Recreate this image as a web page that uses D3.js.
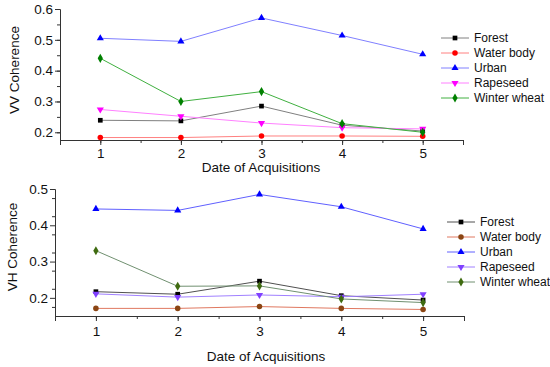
<!DOCTYPE html>
<html>
<head>
<meta charset="utf-8">
<script src="https://cdn.jsdelivr.net/npm/d3@7"></script>
<style>
    body { margin: 0; background: #fff; }
    svg { font-family: Arial, "Liberation Sans", sans-serif; }
</style>
</head>
<body>
<svg id="chart" width="550" height="367"></svg>
<script>
// data
var dates = [1, 2, 3, 4, 5];
var classes = ["Forest", "Water body", "Urban", "Rapeseed", "Winter wheat"];

var vvForest = [0.239, 0.237, 0.285, 0.223, 0.204];
var vvWater = [0.183, 0.183, 0.188, 0.188, 0.187];
var vvUrban = [0.505, 0.495, 0.571, 0.514, 0.453];
var vvRape = [0.274, 0.252, 0.230, 0.215, 0.211];
var vvWheat = [0.440, 0.300, 0.332, 0.228, 0.200];

var vhForest = [0.217, 0.210, 0.246, 0.206, 0.194];
var vhWater = [0.171, 0.171, 0.176, 0.171, 0.168];
var vhUrban = [0.445, 0.441, 0.485, 0.451, 0.390];
var vhRape = [0.211, 0.202, 0.208, 0.203, 0.210];
var vhWheat = [0.330, 0.232, 0.233, 0.197, 0.187];

var vvTicks = [0.2, 0.3, 0.4, 0.5, 0.6];
var vhTicks = [0.2, 0.3, 0.4, 0.5];

var symbols = [d3.symbolSquare, d3.symbolCircle, d3.symbolTriangle, "down", d3.symbolDiamond];

var svg = d3.select("#chart");

function drawPanel(p) {
    var x = d3.scaleLinear().domain([0.5, 5.5]).range([p.left, p.right]);
    var y = d3.scaleLinear().domain(p.yDomain).range([p.bottom, p.top]);
    var g = svg.append("g");

    // x axis, minor ticks at the halves
    var xAxis = g.append("g").attr("transform", "translate(0," + p.bottom + ")");
    xAxis.call(d3.axisBottom(x).tickValues(d3.range(0.5, 5.51, 0.5)).tickSize(3).tickFormat(""));
    xAxis.append("g").call(d3.axisBottom(x).tickValues(dates).tickSize(5).tickFormat(d3.format("d")));
    xAxis.selectAll("path.domain").attr("stroke", "#333");
    xAxis.selectAll("line").attr("stroke", "#333");
    xAxis.selectAll("text").attr("fill", "#111").style("font-size", "13.5px").attr("y", p.xLabOff);

    // y axis
    var minor = d3.range(p.yDomain[0] + 0.025, p.yDomain[1] + 0.001, 0.05);
    var yAxis = g.append("g").attr("transform", "translate(" + p.left + ",0)");
    yAxis.call(d3.axisLeft(y).tickValues(minor).tickSize(3).tickFormat("").tickSizeOuter(0));
    yAxis.append("g").call(d3.axisLeft(y).tickValues(p.ticks).tickSize(5).tickFormat(d3.format(".1f")).tickSizeOuter(0));
    yAxis.selectAll("path.domain").attr("stroke", "#333");
    yAxis.selectAll("line").attr("stroke", "#333");
    yAxis.selectAll("text").attr("fill", "#111").style("font-size", "13.5px").attr("x", -7);
    yAxis.select("g").select("path.domain").remove();

    g.append("text")
        .attr("transform", "translate(" + p.yTitleX + "," + p.yTitleY + ") rotate(-90)")
        .attr("text-anchor", "middle")
        .attr("dy", "0.35em")
        .style("font-size", "13.5px")
        .attr("fill", "#111")
        .text(p.yTitle);

    g.append("text")
        .attr("x", p.xTitleX)
        .attr("y", p.xTitleY)
        .attr("text-anchor", "middle")
        .style("font-size", "13.5px")
        .attr("fill", "#111")
        .text("Date of Acquisitions");

    var line = d3.line()
        .x(function (d, i) { return x(dates[i]); })
        .y(function (d) { return y(d); });

    p.series.forEach(function (vals, k) {
        g.append("path")
            .datum(vals)
            .attr("d", line)
            .attr("fill", "none")
            .attr("stroke", p.lineColors[k])
            .attr("stroke-width", 1);
    });

    p.series.forEach(function (vals, k) {
        g.selectAll(".m" + k)
            .data(vals)
            .enter()
            .append("path")
            .attr("d", markerPath(k))
            .attr("transform", function (d, i) {
                return "translate(" + x(dates[i]) + "," + y(d) + ")" + (symbols[k] === "down" ? " rotate(180)" : "");
            })
            .attr("fill", p.markColors[k]);
    });

    // legend
    var leg = g.selectAll(".leg")
        .data(classes)
        .enter()
        .append("g")
        .attr("transform", function (d, i) {
            return "translate(" + p.legX + "," + (p.legY + i * 15) + ")";
        });
    leg.append("line")
        .attr("x1", 0).attr("x2", 28)
        .attr("stroke", function (d, i) { return p.lineColors[i]; });
    leg.append("path")
        .attr("d", function (d, i) { return markerPath(i); })
        .attr("transform", function (d, i) {
            return "translate(14,0)" + (symbols[i] === "down" ? " rotate(180)" : "");
        })
        .attr("fill", function (d, i) { return p.markColors[i]; });
    leg.append("text")
        .attr("x", 33)
        .attr("dy", "0.36em")
        .style("font-size", "12px")
        .attr("fill", "#111")
        .text(function (d) { return d; });
}

function markerPath(k) {
    var s = symbols[k] === "down" ? d3.symbolTriangle : symbols[k];
    var size = k === 0 ? 22 : k === 1 ? 24 : k === 4 ? 24 : 22;
    return d3.symbol().type(s).size(size)();
}

drawPanel({
    left: 60, right: 463, top: 9, bottom: 140,
    yDomain: [0.175, 0.6], ticks: vvTicks,
    yTitle: "VV Coherence", yTitleX: 14, yTitleY: 70,
    xTitleX: 261, xTitleY: 172, xLabOff: 8,
    series: [vvForest, vvWater, vvUrban, vvRape, vvWheat],
    lineColors: ["#808080", "#ff8080", "#8080ff", "#ff80ff", "#40b040"],
    markColors: ["#000000", "#ff0000", "#0000ff", "#ff00ff", "#008000"],
    legX: 441, legY: 38
});

drawPanel({
    left: 55, right: 464, top: 189, bottom: 316,
    yDomain: [0.15, 0.5], ticks: vhTicks,
    yTitle: "VH Coherence", yTitleX: 12, yTitleY: 247,
    xTitleX: 266, xTitleY: 361, xLabOff: 10,
    series: [vhForest, vhWater, vhUrban, vhRape, vhWheat],
    lineColors: ["#505050", "#e07860", "#6060ff", "#a080ff", "#709070"],
    markColors: ["#000000", "#8b4513", "#0000ff", "#8040ff", "#3f6b10"],
    legX: 447, legY: 222
});
</script>
</body>
</html>
